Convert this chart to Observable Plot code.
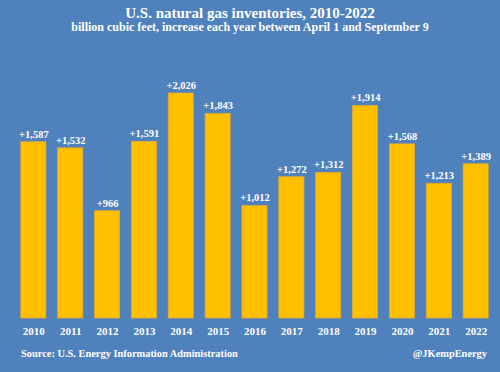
<!DOCTYPE html>
<html>
<head>
<meta charset="utf-8">
<script src="https://cdn.jsdelivr.net/npm/d3@7"></script>
<script src="https://cdn.jsdelivr.net/npm/@observablehq/plot@0.6"></script>
<style>
  html, body { margin: 0; padding: 0; }
  body { width: 500px; height: 372px; background: #4f81bd; overflow: hidden; font-family: "Liberation Serif", "DejaVu Serif", serif; color: #fff; position: relative; }
  #title { position: absolute; top: 4px; left: 0; width: 500px; text-align: center; font-size: 15px; line-height: 18px; font-weight: bold; }
  #subtitle { position: absolute; top: 20px; left: 0; width: 500px; text-align: center; font-size: 12px; line-height: 14px; font-weight: bold; }
  #chart { position: absolute; top: 38px; left: 0; }
  #source { position: absolute; top: 347px; left: 21px; font-size: 10.4px; line-height: 14px; font-weight: bold; }
  #handle { position: absolute; top: 347px; right: 13px; font-size: 10.4px; line-height: 14px; font-weight: bold; }
</style>
</head>
<body>
<div id="title">U.S. natural gas inventories, 2010-2022</div>
<div id="subtitle">billion cubic feet, increase each year between April 1 and September 9</div>
<div id="chart"></div>
<div id="source">Source: U.S. Energy Information Administration</div>
<div id="handle">@JKempEnergy</div>
<script>
const years = ["2010","2011","2012","2013","2014","2015","2016","2017","2018","2019","2020","2021","2022"];
const values = [1587, 1532, 966, 1591, 2026, 1843, 1012, 1272, 1312, 1914, 1568, 1213, 1389];
const labels = ["+1,587","+1,532","+966","+1,591","+2,026","+1,843","+1,012","+1,272","+1,312","+1,914","+1,568","+1,213","+1,389"];

const data = years.map((y, i) => ({year: y, value: values[i], label: labels[i]}));

const chart = Plot.plot({
  width: 500,
  height: 300,
  marginTop: 35.7,
  marginBottom: 20,
  marginLeft: 9,
  marginRight: 0,
  style: {background: "transparent", color: "#fff", fontFamily: "'Liberation Serif', serif"},
  x: {domain: years, padding: 0.32, round: false, label: null},
  y: {domain: [0, 2200], axis: null},
  marks: [
    Plot.barY(data, {x: "year", y: "value", fill: "#ffc000", stroke: "#e6a82e", strokeWidth: 0.8}),
    Plot.text(data, {x: "year", y: "value", text: "label", dy: -8, fill: "#fff", fontSize: 10.5, fontWeight: "bold"}),
    Plot.axisX({tickSize: 0, tickPadding: 9, fontSize: 11, fontWeight: "bold", fill: "#fff", label: null})
  ]
});
document.getElementById("chart").appendChild(chart);
</script>
</body>
</html>
